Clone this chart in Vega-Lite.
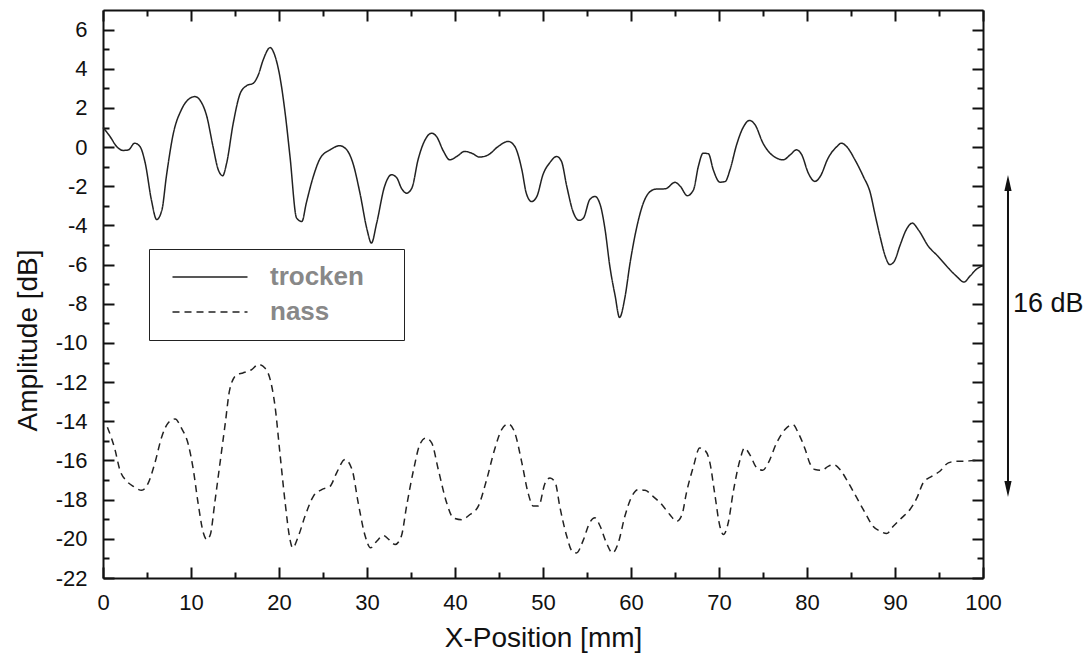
{
  "$schema": "https://vega.github.io/schema/vega-lite/v6.json",
  "width": 880,
  "height": 568,
  "autosize": {"type": "none"},
  "padding": {"left": 103, "top": 10, "right": 106, "bottom": 84},
  "background": "white",
  "config": {
    "view": {"stroke": null},
    "font": "Liberation Sans",
    "axis": {"grid": false, "domainColor": "#111", "domainWidth": 2, "tickColor": "#111", "tickWidth": 2, "labelColor": "#111", "titleColor": "#111", "labelFont": "Liberation Sans", "titleFont": "Liberation Sans", "labelFlush": false, "labelOverlap": false, "titleFontWeight": "normal"}
  },
  "datasets": {
    "lines": [
      {"x":0,"y":1.0,"s":"trocken"},{"x":0.8,"y":0.54,"s":"trocken"},{"x":1.55,"y":0.03,"s":"trocken"},{"x":2.3,"y":-0.17,"s":"trocken"},{"x":2.9,"y":-0.14,"s":"trocken"},{"x":3.6,"y":0.2,"s":"trocken"},{"x":4.2,"y":0.03,"s":"trocken"},{"x":4.8,"y":-0.82,"s":"trocken"},{"x":5.5,"y":-2.7,"s":"trocken"},{"x":6.1,"y":-3.7,"s":"trocken"},{"x":6.7,"y":-3.2,"s":"trocken"},{"x":7.2,"y":-1.5,"s":"trocken"},{"x":8.0,"y":0.71,"s":"trocken"},{"x":8.9,"y":1.9,"s":"trocken"},{"x":9.9,"y":2.5,"s":"trocken"},{"x":10.45,"y":2.58,"s":"trocken"},{"x":11.0,"y":2.41,"s":"trocken"},{"x":11.8,"y":1.56,"s":"trocken"},{"x":12.5,"y":0.03,"s":"trocken"},{"x":13.1,"y":-1.16,"s":"trocken"},{"x":13.6,"y":-1.46,"s":"trocken"},{"x":14.05,"y":-0.82,"s":"trocken"},{"x":14.8,"y":1.22,"s":"trocken"},{"x":15.6,"y":2.75,"s":"trocken"},{"x":16.3,"y":3.13,"s":"trocken"},{"x":17.1,"y":3.27,"s":"trocken"},{"x":17.65,"y":3.69,"s":"trocken"},{"x":18.2,"y":4.45,"s":"trocken"},{"x":19.0,"y":5.08,"s":"trocken"},{"x":19.5,"y":4.71,"s":"trocken"},{"x":20.1,"y":3.6,"s":"trocken"},{"x":20.7,"y":1.73,"s":"trocken"},{"x":21.25,"y":-0.48,"s":"trocken"},{"x":22.0,"y":-3.62,"s":"trocken"},{"x":22.6,"y":-3.8,"s":"trocken"},{"x":23.1,"y":-2.86,"s":"trocken"},{"x":23.9,"y":-1.5,"s":"trocken"},{"x":24.7,"y":-0.56,"s":"trocken"},{"x":25.8,"y":-0.14,"s":"trocken"},{"x":26.9,"y":0.07,"s":"trocken"},{"x":27.7,"y":-0.14,"s":"trocken"},{"x":28.4,"y":-0.82,"s":"trocken"},{"x":29.2,"y":-2.35,"s":"trocken"},{"x":30.0,"y":-4.2,"s":"trocken"},{"x":30.5,"y":-4.9,"s":"trocken"},{"x":31.1,"y":-3.88,"s":"trocken"},{"x":32.0,"y":-2.0,"s":"trocken"},{"x":32.8,"y":-1.41,"s":"trocken"},{"x":33.4,"y":-1.58,"s":"trocken"},{"x":33.9,"y":-2.09,"s":"trocken"},{"x":34.5,"y":-2.35,"s":"trocken"},{"x":35.1,"y":-2.09,"s":"trocken"},{"x":35.8,"y":-0.65,"s":"trocken"},{"x":36.6,"y":0.37,"s":"trocken"},{"x":37.35,"y":0.71,"s":"trocken"},{"x":37.9,"y":0.54,"s":"trocken"},{"x":38.7,"y":-0.22,"s":"trocken"},{"x":39.4,"y":-0.65,"s":"trocken"},{"x":40.2,"y":-0.48,"s":"trocken"},{"x":41.1,"y":-0.22,"s":"trocken"},{"x":41.9,"y":-0.31,"s":"trocken"},{"x":42.8,"y":-0.51,"s":"trocken"},{"x":43.8,"y":-0.39,"s":"trocken"},{"x":44.9,"y":0.03,"s":"trocken"},{"x":46.06,"y":0.29,"s":"trocken"},{"x":46.8,"y":0.03,"s":"trocken"},{"x":47.6,"y":-1.16,"s":"trocken"},{"x":48.1,"y":-2.35,"s":"trocken"},{"x":48.7,"y":-2.78,"s":"trocken"},{"x":49.3,"y":-2.52,"s":"trocken"},{"x":50.0,"y":-1.4,"s":"trocken"},{"x":50.8,"y":-0.78,"s":"trocken"},{"x":51.55,"y":-0.48,"s":"trocken"},{"x":52.1,"y":-0.73,"s":"trocken"},{"x":52.7,"y":-2.0,"s":"trocken"},{"x":53.4,"y":-3.28,"s":"trocken"},{"x":54.1,"y":-3.74,"s":"trocken"},{"x":54.6,"y":-3.62,"s":"trocken"},{"x":55.3,"y":-2.69,"s":"trocken"},{"x":55.9,"y":-2.52,"s":"trocken"},{"x":56.5,"y":-2.94,"s":"trocken"},{"x":57.05,"y":-4.2,"s":"trocken"},{"x":57.6,"y":-6.1,"s":"trocken"},{"x":58.2,"y":-7.6,"s":"trocken"},{"x":58.7,"y":-8.7,"s":"trocken"},{"x":59.3,"y":-7.7,"s":"trocken"},{"x":59.9,"y":-5.9,"s":"trocken"},{"x":60.6,"y":-4.2,"s":"trocken"},{"x":61.4,"y":-2.86,"s":"trocken"},{"x":62.2,"y":-2.26,"s":"trocken"},{"x":62.9,"y":-2.14,"s":"trocken"},{"x":63.9,"y":-2.13,"s":"trocken"},{"x":65.0,"y":-1.8,"s":"trocken"},{"x":65.6,"y":-2.0,"s":"trocken"},{"x":66.4,"y":-2.48,"s":"trocken"},{"x":67.1,"y":-2.18,"s":"trocken"},{"x":67.65,"y":-0.99,"s":"trocken"},{"x":68.2,"y":-0.31,"s":"trocken"},{"x":68.8,"y":-0.34,"s":"trocken"},{"x":69.35,"y":-1.16,"s":"trocken"},{"x":70.1,"y":-1.79,"s":"trocken"},{"x":70.7,"y":-1.76,"s":"trocken"},{"x":71.25,"y":-1.16,"s":"trocken"},{"x":72.0,"y":0.12,"s":"trocken"},{"x":72.8,"y":1.05,"s":"trocken"},{"x":73.45,"y":1.36,"s":"trocken"},{"x":74.1,"y":1.14,"s":"trocken"},{"x":75.0,"y":0.2,"s":"trocken"},{"x":75.8,"y":-0.31,"s":"trocken"},{"x":76.55,"y":-0.56,"s":"trocken"},{"x":77.3,"y":-0.65,"s":"trocken"},{"x":78.1,"y":-0.39,"s":"trocken"},{"x":78.8,"y":-0.14,"s":"trocken"},{"x":79.4,"y":-0.39,"s":"trocken"},{"x":80.15,"y":-1.33,"s":"trocken"},{"x":80.9,"y":-1.75,"s":"trocken"},{"x":81.5,"y":-1.5,"s":"trocken"},{"x":82.4,"y":-0.56,"s":"trocken"},{"x":83.4,"y":0.03,"s":"trocken"},{"x":83.9,"y":0.2,"s":"trocken"},{"x":84.5,"y":0.03,"s":"trocken"},{"x":85.45,"y":-0.65,"s":"trocken"},{"x":86.4,"y":-1.5,"s":"trocken"},{"x":87.2,"y":-2.35,"s":"trocken"},{"x":87.7,"y":-3.37,"s":"trocken"},{"x":88.3,"y":-4.56,"s":"trocken"},{"x":88.9,"y":-5.58,"s":"trocken"},{"x":89.4,"y":-6.0,"s":"trocken"},{"x":89.9,"y":-5.84,"s":"trocken"},{"x":90.6,"y":-4.98,"s":"trocken"},{"x":91.3,"y":-4.2,"s":"trocken"},{"x":91.97,"y":-3.88,"s":"trocken"},{"x":92.65,"y":-4.22,"s":"trocken"},{"x":93.8,"y":-5.07,"s":"trocken"},{"x":94.9,"y":-5.58,"s":"trocken"},{"x":96.06,"y":-6.17,"s":"trocken"},{"x":97.0,"y":-6.6,"s":"trocken"},{"x":97.84,"y":-6.89,"s":"trocken"},{"x":98.5,"y":-6.6,"s":"trocken"},{"x":99.3,"y":-6.22,"s":"trocken"},{"x":100,"y":-6.05,"s":"trocken"},
      {"x":0.5,"y":-14.3,"s":"nass"},{"x":1.36,"y":-15.44,"s":"nass"},{"x":1.9,"y":-16.46,"s":"nass"},{"x":2.7,"y":-17.06,"s":"nass"},{"x":3.45,"y":-17.32,"s":"nass"},{"x":4.4,"y":-17.52,"s":"nass"},{"x":5.15,"y":-17.14,"s":"nass"},{"x":5.9,"y":-16.12,"s":"nass"},{"x":6.7,"y":-14.76,"s":"nass"},{"x":7.4,"y":-14.08,"s":"nass"},{"x":8.2,"y":-13.88,"s":"nass"},{"x":8.9,"y":-14.34,"s":"nass"},{"x":9.7,"y":-15.19,"s":"nass"},{"x":10.26,"y":-16.46,"s":"nass"},{"x":10.8,"y":-18.16,"s":"nass"},{"x":11.4,"y":-19.69,"s":"nass"},{"x":11.8,"y":-20.04,"s":"nass"},{"x":12.2,"y":-19.78,"s":"nass"},{"x":12.7,"y":-18.16,"s":"nass"},{"x":13.3,"y":-16.12,"s":"nass"},{"x":13.9,"y":-14.08,"s":"nass"},{"x":14.4,"y":-12.38,"s":"nass"},{"x":15.2,"y":-11.62,"s":"nass"},{"x":15.9,"y":-11.53,"s":"nass"},{"x":16.9,"y":-11.36,"s":"nass"},{"x":17.65,"y":-11.1,"s":"nass"},{"x":18.4,"y":-11.28,"s":"nass"},{"x":19.0,"y":-11.87,"s":"nass"},{"x":19.55,"y":-13.23,"s":"nass"},{"x":20.1,"y":-15.6,"s":"nass"},{"x":20.7,"y":-18.16,"s":"nass"},{"x":21.25,"y":-20.04,"s":"nass"},{"x":21.55,"y":-20.46,"s":"nass"},{"x":22.2,"y":-19.87,"s":"nass"},{"x":22.95,"y":-18.85,"s":"nass"},{"x":23.9,"y":-17.83,"s":"nass"},{"x":24.85,"y":-17.49,"s":"nass"},{"x":25.8,"y":-17.32,"s":"nass"},{"x":26.55,"y":-16.63,"s":"nass"},{"x":27.5,"y":-15.95,"s":"nass"},{"x":28.3,"y":-16.46,"s":"nass"},{"x":29.0,"y":-18.16,"s":"nass"},{"x":29.8,"y":-19.87,"s":"nass"},{"x":30.4,"y":-20.46,"s":"nass"},{"x":31.1,"y":-20.12,"s":"nass"},{"x":31.85,"y":-19.83,"s":"nass"},{"x":32.5,"y":-20.04,"s":"nass"},{"x":33.2,"y":-20.29,"s":"nass"},{"x":33.9,"y":-19.87,"s":"nass"},{"x":34.5,"y":-18.33,"s":"nass"},{"x":35.3,"y":-16.46,"s":"nass"},{"x":36.0,"y":-15.19,"s":"nass"},{"x":36.7,"y":-14.85,"s":"nass"},{"x":37.35,"y":-15.1,"s":"nass"},{"x":38.1,"y":-16.46,"s":"nass"},{"x":39.05,"y":-18.16,"s":"nass"},{"x":39.8,"y":-18.93,"s":"nass"},{"x":40.76,"y":-19.02,"s":"nass"},{"x":41.7,"y":-18.76,"s":"nass"},{"x":42.65,"y":-18.33,"s":"nass"},{"x":43.6,"y":-16.97,"s":"nass"},{"x":44.5,"y":-15.44,"s":"nass"},{"x":45.3,"y":-14.42,"s":"nass"},{"x":46.06,"y":-14.13,"s":"nass"},{"x":46.8,"y":-14.59,"s":"nass"},{"x":47.6,"y":-16.12,"s":"nass"},{"x":48.3,"y":-17.65,"s":"nass"},{"x":48.9,"y":-18.33,"s":"nass"},{"x":49.5,"y":-18.33,"s":"nass"},{"x":50.2,"y":-17.2,"s":"nass"},{"x":50.8,"y":-16.89,"s":"nass"},{"x":51.4,"y":-17.14,"s":"nass"},{"x":51.9,"y":-18.33,"s":"nass"},{"x":52.7,"y":-19.87,"s":"nass"},{"x":53.3,"y":-20.63,"s":"nass"},{"x":53.8,"y":-20.72,"s":"nass"},{"x":54.6,"y":-20.04,"s":"nass"},{"x":55.3,"y":-19.18,"s":"nass"},{"x":55.9,"y":-18.93,"s":"nass"},{"x":56.5,"y":-19.36,"s":"nass"},{"x":57.2,"y":-20.2,"s":"nass"},{"x":57.9,"y":-20.72,"s":"nass"},{"x":58.56,"y":-20.2,"s":"nass"},{"x":59.3,"y":-18.85,"s":"nass"},{"x":60.1,"y":-17.83,"s":"nass"},{"x":60.8,"y":-17.49,"s":"nass"},{"x":61.6,"y":-17.52,"s":"nass"},{"x":62.5,"y":-17.83,"s":"nass"},{"x":63.5,"y":-18.25,"s":"nass"},{"x":64.4,"y":-18.76,"s":"nass"},{"x":65.2,"y":-19.1,"s":"nass"},{"x":65.8,"y":-18.76,"s":"nass"},{"x":66.3,"y":-17.65,"s":"nass"},{"x":67.1,"y":-16.3,"s":"nass"},{"x":67.8,"y":-15.36,"s":"nass"},{"x":68.4,"y":-15.48,"s":"nass"},{"x":68.97,"y":-16.12,"s":"nass"},{"x":69.5,"y":-17.65,"s":"nass"},{"x":70.1,"y":-19.36,"s":"nass"},{"x":70.5,"y":-19.78,"s":"nass"},{"x":71.05,"y":-19.18,"s":"nass"},{"x":71.6,"y":-17.65,"s":"nass"},{"x":72.4,"y":-15.95,"s":"nass"},{"x":72.9,"y":-15.36,"s":"nass"},{"x":73.5,"y":-15.7,"s":"nass"},{"x":74.3,"y":-16.38,"s":"nass"},{"x":74.97,"y":-16.5,"s":"nass"},{"x":75.6,"y":-16.12,"s":"nass"},{"x":76.55,"y":-15.1,"s":"nass"},{"x":77.5,"y":-14.42,"s":"nass"},{"x":78.4,"y":-14.17,"s":"nass"},{"x":79.0,"y":-14.59,"s":"nass"},{"x":79.8,"y":-15.44,"s":"nass"},{"x":80.3,"y":-16.12,"s":"nass"},{"x":80.9,"y":-16.46,"s":"nass"},{"x":81.7,"y":-16.5,"s":"nass"},{"x":82.4,"y":-16.3,"s":"nass"},{"x":83.0,"y":-16.21,"s":"nass"},{"x":83.75,"y":-16.46,"s":"nass"},{"x":84.7,"y":-17.14,"s":"nass"},{"x":85.65,"y":-17.9,"s":"nass"},{"x":86.6,"y":-18.67,"s":"nass"},{"x":87.5,"y":-19.36,"s":"nass"},{"x":88.3,"y":-19.61,"s":"nass"},{"x":89.05,"y":-19.73,"s":"nass"},{"x":89.8,"y":-19.36,"s":"nass"},{"x":90.76,"y":-18.93,"s":"nass"},{"x":91.7,"y":-18.5,"s":"nass"},{"x":92.5,"y":-17.9,"s":"nass"},{"x":93.2,"y":-17.14,"s":"nass"},{"x":94.2,"y":-16.8,"s":"nass"},{"x":95.1,"y":-16.55,"s":"nass"},{"x":96.06,"y":-16.12,"s":"nass"},{"x":97.0,"y":-16.04,"s":"nass"},{"x":97.95,"y":-16.04,"s":"nass"},{"x":98.9,"y":-16.0,"s":"nass"},{"x":99.7,"y":-16.0,"s":"nass"}
    ],
    "rule": [{"x": 102.84, "y": -1.9, "y2": -17.4}],
    "heads": [{"x": 102.84, "y": -1.83, "dir": "up"}, {"x": 102.84, "y": -17.46, "dir": "down"}],
    "label": [{"x": 103.4, "y": -8.0, "text": "16 dB"}]
  },
  "layer": [
    {
      "data": {"name": "lines"},
      "mark": {"type": "line", "interpolate": "monotone", "strokeWidth": 1.5, "color": "#222"},
      "encoding": {
        "x": {"field": "x", "type": "quantitative",
          "scale": {"domain": [0, 100], "nice": false, "zero": false},
          "axis": {"orient": "bottom", "values": [0,5,10,15,20,25,30,35,40,45,50,55,60,65,70,75,80,85,90,95,100],
            "tickSize": {"condition": {"test": "datum.value % 10 === 0", "value": -11}, "value": -6},
            "labelExpr": "datum.value % 10 === 0 ? datum.label : ''",
            "labelFontSize": 22, "labelPadding": 25,
            "title": "X-Position [mm]", "titleFontSize": 28, "titlePadding": 6}},
        "y": {"field": "y", "type": "quantitative",
          "scale": {"domain": [-22, 7], "nice": false, "zero": false},
          "axis": {"orient": "left", "values": [-22,-21,-20,-19,-18,-17,-16,-15,-14,-13,-12,-11,-10,-9,-8,-7,-6,-5,-4,-3,-2,-1,0,1,2,3,4,5,6],
            "tickSize": {"condition": {"test": "datum.value % 2 === 0", "value": -11}, "value": -6},
            "labelExpr": "datum.value % 2 === 0 ? replace(datum.label, '\u2212', '-') : ''",
            "labelFontSize": 22, "labelPadding": 27,
            "title": "Amplitude [dB]", "titleFontSize": 28, "titleX": -75, "titleY": 330, "titleBaseline": "middle", "titleAlign": "center", "titleAngle": -90}},
        "strokeDash": {"field": "s", "type": "nominal",
          "scale": {"domain": ["trocken", "nass"], "range": [[1, 0], [7, 5]]},
          "legend": {"orient": "none", "legendX": 46, "legendY": 239, "direction": "vertical", "title": null,
            "strokeColor": "#222", "fillColor": "white", "padding": 15,
            "symbolType": "M -5 0 L 5 0 M 23.4 0", "symbolSize": 225, "symbolStrokeWidth": 1.5, "symbolStrokeColor": "#222", "symbolFillColor": "transparent", "symbolOffset": 33,
            "labelFont": "Liberation Sans", "labelFontSize": 26, "labelFontWeight": "bold", "labelColor": "#888", "labelOffset": 47, "labelLimit": 400, "rowPadding": 9}}
      }
    },
    {
      "data": {"name": "rule"},
      "mark": {"type": "rule", "strokeWidth": 2, "color": "#111"},
      "encoding": {
        "x": {"field": "x", "type": "quantitative",
          "scale": {"domain": [0, 100], "nice": false, "zero": false},
          "axis": {"orient": "top", "values": [0,5,10,15,20,25,30,35,40,45,50,55,60,65,70,75,80,85,90,95,100],
            "tickSize": {"condition": {"test": "datum.value % 10 === 0", "value": -11}, "value": -6},
            "labels": false, "title": null}},
        "y": {"field": "y", "type": "quantitative",
          "scale": {"domain": [-22, 7], "nice": false, "zero": false},
          "axis": {"orient": "right", "values": [-22,-21,-20,-19,-18,-17,-16,-15,-14,-13,-12,-11,-10,-9,-8,-7,-6,-5,-4,-3,-2,-1,0,1,2,3,4,5,6],
            "tickSize": {"condition": {"test": "datum.value % 2 === 0", "value": -11}, "value": -6},
            "labels": false, "title": null}},
        "y2": {"field": "y2"}
      }
    },
    {
      "data": {"name": "heads"},
      "mark": {"type": "point", "filled": true, "size": 256, "color": "#111", "opacity": 1},
      "encoding": {
        "x": {"field": "x", "type": "quantitative", "scale": {"domain": [0, 100], "nice": false, "zero": false}, "axis": null},
        "y": {"field": "y", "type": "quantitative", "scale": {"domain": [-22, 7], "nice": false, "zero": false}, "axis": null},
        "shape": {"field": "dir", "type": "nominal",
          "scale": {"domain": ["up", "down"], "range": ["M -0.45 1 L 0 -1 L 0.45 1 Z", "M -0.45 -1 L 0 1 L 0.45 -1 Z"]},
          "legend": null}
      }
    },
    {
      "data": {"name": "label"},
      "mark": {"type": "text", "align": "left", "baseline": "middle", "fontSize": 27, "font": "Liberation Sans", "color": "#111"},
      "encoding": {
        "x": {"field": "x", "type": "quantitative", "scale": {"domain": [0, 100], "nice": false, "zero": false}, "axis": null},
        "y": {"field": "y", "type": "quantitative", "scale": {"domain": [-22, 7], "nice": false, "zero": false}, "axis": null},
        "text": {"field": "text"}
      }
    }
  ],
  "resolve": {"axis": {"x": "independent", "y": "independent"}}
}
